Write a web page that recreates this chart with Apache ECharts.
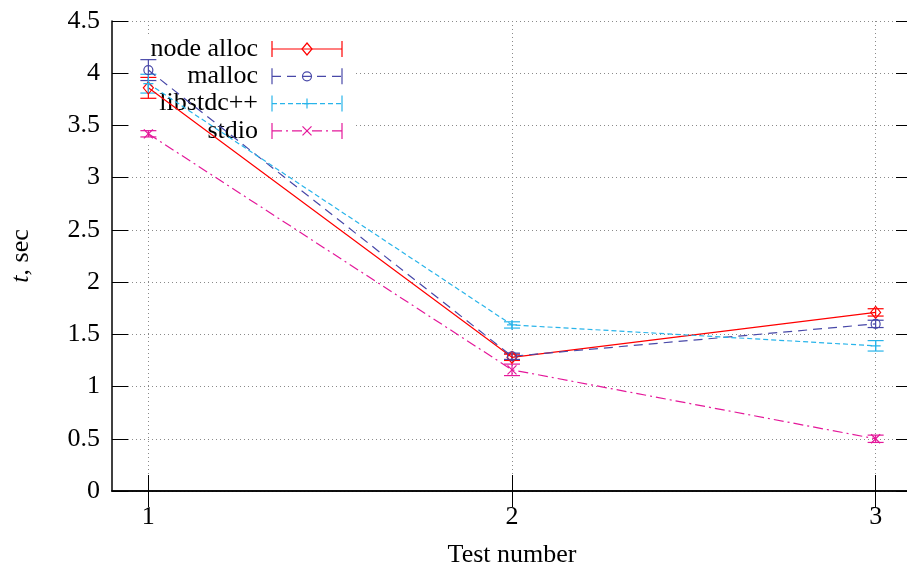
<!DOCTYPE html>
<html>
<head>
<meta charset="utf-8">
<script src="https://cdn.jsdelivr.net/npm/echarts@6/dist/echarts.min.js"></script>
<style>
html,body{margin:0;padding:0;background:#fff;}
#chart{width:907px;height:573px;}
</style>
</head>
<body>
<div id="chart"></div>
<script>
// ---- data ----
const tests = [1, 2, 3];
const xTickValues = [1, 2, 3];
const yTickValues = [0, 0.5, 1, 1.5, 2, 2.5, 3, 3.5, 4, 4.5];
const seriesNames = ['node alloc', 'malloc', 'libstdc++', 'stdio'];
const nodeAlloc = [3.86, 1.28, 1.71];
const nodeAllocErr = [0.10, 0.03, 0.035];
const mallocVals = [4.03, 1.29, 1.60];
const mallocErr = [0.10, 0.03, 0.035];
const libstdcpp = [3.90, 1.59, 1.39];
const libstdcppErr = [0.09, 0.03, 0.05];
const stdioVals = [3.42, 1.16, 0.50];
const stdioErr = [0.03, 0.055, 0.035];

// ---- styles ----
const FONT = '"Liberation Serif", "DejaVu Serif", serif';
const styles = [
  { color: '#ff0000', dash: 'solid', symbol: 'diamond', size: [10, 12] },
  { color: '#4848a8', dash: [9, 6], symbol: 'circle', size: 9 },
  { color: '#28b4ea', dash: [5, 3], symbol: 'path://M5,0L5,10M0,5L10,5', size: 10 },
  { color: '#e4189a', dash: [10, 4, 2, 4], symbol: 'path://M0,0L10,10M0,10L10,0', size: 9 }
];
const values = [nodeAlloc, mallocVals, libstdcpp, stdioVals];
const errs = [nodeAllocErr, mallocErr, libstdcppErr, stdioErr];

const chart = echarts.init(document.getElementById('chart'), null, { renderer: 'canvas' });

const series = [];
values.forEach((vals, i) => {
  const st = styles[i];
  series.push({
    name: seriesNames[i],
    type: 'line',
    data: tests.map((t, k) => [t, vals[k]]),
    symbol: st.symbol,
    symbolSize: st.size,
    showSymbol: true,
    lineStyle: { color: st.color, width: 1.2, type: st.dash },
    itemStyle: { color: 'transparent', borderColor: st.color, borderWidth: 1.2 },
    emphasis: { disabled: true },
    animation: false,
    z: 3
  });
  series.push({
    name: seriesNames[i] + ' err',
    type: 'custom',
    data: tests.map((t, k) => [t, vals[k] - errs[i][k], vals[k] + errs[i][k]]),
    renderItem: function (params, api) {
      const lo = api.coord([api.value(0), api.value(1)]);
      const hi = api.coord([api.value(0), api.value(2)]);
      const hw = 8;
      const s = { stroke: st.color, lineWidth: 1.2 };
      return {
        type: 'group',
        children: [
          { type: 'line', shape: { x1: lo[0], y1: lo[1], x2: hi[0], y2: hi[1] }, style: s },
          { type: 'line', shape: { x1: lo[0] - hw, y1: lo[1], x2: lo[0] + hw, y2: lo[1] }, style: s },
          { type: 'line', shape: { x1: hi[0] - hw, y1: hi[1], x2: hi[0] + hw, y2: hi[1] }, style: s }
        ]
      };
    },
    animation: false,
    z: 3
  });
});

// legend graphics (key box)
const legendTextRight = 258, sampleX1 = 272, sampleX2 = 342, rowY0 = 49, rowStep = 27.3;
const legendEls = [{
  type: 'rect', shape: { x: 131, y: 34, width: 222, height: 111 },
  style: { fill: '#fff' }, z: 1, silent: true
}];
seriesNames.forEach((nm, i) => {
  const st = styles[i];
  const y = rowY0 + i * rowStep;
  const s = { stroke: st.color, lineWidth: 1.2 };
  legendEls.push({ type: 'text', x: legendTextRight, y: y, z: 2,
    style: { text: nm, font: '26px ' + FONT, fill: '#000', align: 'right', verticalAlign: 'middle' } });
  legendEls.push({ type: 'line', z: 4, shape: { x1: sampleX1, y1: y, x2: sampleX2, y2: y },
    style: Object.assign({ lineDash: st.dash === 'solid' ? null : st.dash }, s) });
  legendEls.push({ type: 'line', z: 4, shape: { x1: sampleX1, y1: y - 8, x2: sampleX1, y2: y + 8 }, style: s });
  legendEls.push({ type: 'line', z: 4, shape: { x1: sampleX2, y1: y - 8, x2: sampleX2, y2: y + 8 }, style: s });
  const cx = (sampleX1 + sampleX2) / 2;
  let marker;
  if (i === 0) marker = { type: 'polygon', shape: { points: [[cx, y - 6], [cx + 5, y], [cx, y + 6], [cx - 5, y]] }, style: { fill: 'none', stroke: st.color, lineWidth: 1.2 } };
  else if (i === 1) marker = { type: 'circle', shape: { cx: cx, cy: y, r: 4.5 }, style: { fill: 'none', stroke: st.color, lineWidth: 1.2 } };
  else if (i === 2) marker = { type: 'polyline', shape: { points: [[cx - 5, y], [cx + 5, y]] }, style: s };
  else marker = { type: 'polyline', shape: { points: [[cx - 4.5, y - 4.5], [cx + 4.5, y + 4.5]] }, style: s };
  marker.z = 4;
  legendEls.push(marker);
  if (i === 2) legendEls.push({ type: 'line', z: 4, shape: { x1: cx, y1: y - 5, x2: cx, y2: y + 5 }, style: s });
  if (i === 3) legendEls.push({ type: 'line', z: 4, shape: { x1: cx - 4.5, y1: y + 4.5, x2: cx + 4.5, y2: y - 4.5 }, style: s });
});

const axisLineStyle = { color: '#000', width: 1.5 };
const gridLineStyle = { color: '#8a8a8a', width: 1, type: [1, 3] };

const option = {
  backgroundColor: '#fff',
  animation: false,
  grid: { left: 112, top: 21, width: 800, bottom: 82, containLabel: false, outerBoundsMode: 'none' },
  xAxis: [{
    type: 'value', position: 'bottom', min: 0.9, max: 3.1,
    axisLine: { show: true, lineStyle: axisLineStyle },
    axisTick: { show: true, inside: true, length: 16, customValues: xTickValues, lineStyle: { color: '#000', width: 1 } },
    axisLabel: { show: true, customValues: xTickValues, margin: 13, fontSize: 26, fontFamily: FONT, color: '#000' },
    splitLine: { show: true, lineStyle: gridLineStyle },
    name: 'Test number', nameLocation: 'middle', nameGap: 51,
    nameTextStyle: { fontSize: 26, fontFamily: FONT, color: '#000' }
  }, {
    type: 'value', position: 'top', min: 0.9, max: 3.1,
    axisLine: { show: true, lineStyle: axisLineStyle },
    axisTick: { show: true, inside: true, length: 16, customValues: xTickValues, lineStyle: { color: '#000', width: 1 } },
    axisLabel: { show: false },
    splitLine: { show: false }
  }],
  yAxis: [{
    type: 'value', position: 'left', min: 0, max: 4.5, interval: 0.5,
    axisLine: { show: true, lineStyle: axisLineStyle },
    axisTick: { show: true, inside: true, length: 16, lineStyle: { color: '#000', width: 1 } },
    axisLabel: { show: true, margin: 12, fontSize: 26, fontFamily: FONT, color: '#000',
      formatter: function (v) { return String(yTickValues.find(t => Math.abs(t - v) < 1e-9)); } },
    splitLine: { show: true, lineStyle: gridLineStyle },
    name: '{i|t}, sec', nameLocation: 'middle', nameGap: 78, nameRotate: 90,
    nameTextStyle: { fontSize: 26, fontFamily: FONT, color: '#000',
      rich: { i: { fontStyle: 'italic', fontSize: 26, fontFamily: FONT, color: '#000' } } }
  }, {
    type: 'value', position: 'right', min: 0, max: 4.5, interval: 0.5,
    axisLine: { show: true, lineStyle: axisLineStyle },
    axisTick: { show: true, inside: true, length: 16, lineStyle: { color: '#000', width: 1 } },
    axisLabel: { show: false },
    splitLine: { show: false }
  }],
  graphic: { elements: legendEls },
  series: series
};
chart.setOption(option);
</script>
</body>
</html>
